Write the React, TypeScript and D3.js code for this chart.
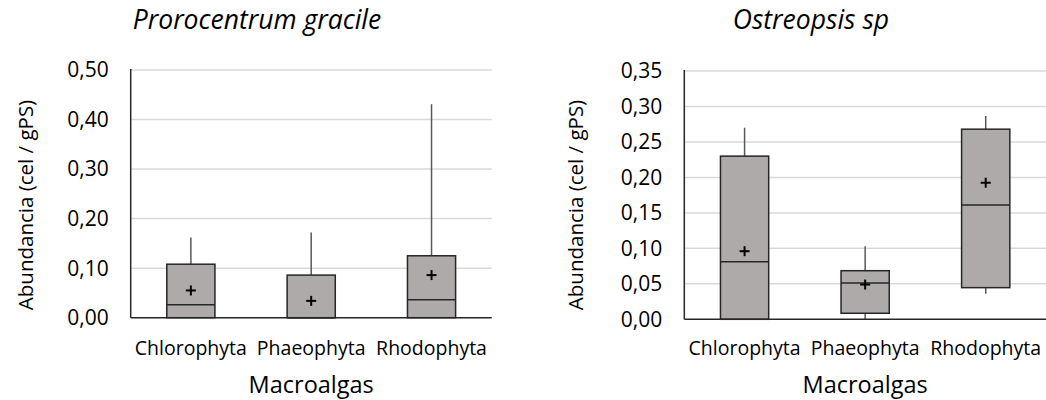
import React from 'react';
import * as d3 from 'd3';

const categories = ['Chlorophyta', 'Phaeophyta', 'Rhodophyta'];

// Prorocentrum gracile
const pgMin = [0, 0, 0];
const pgQ1 = [0, 0, 0];
const pgMedian = [0.026, 0, 0.036];
const pgQ3 = [0.108, 0.086, 0.125];
const pgMax = [0.162, 0.172, 0.431];
const pgMean = [0.055, 0.034, 0.086];
const pgTicks = [0, 0.1, 0.2, 0.3, 0.4, 0.5];

// Ostreopsis sp
const osMin = [0, 0, 0.036];
const osQ1 = [0, 0.0085, 0.0446];
const osMedian = [0.081, 0.051, 0.161];
const osQ3 = [0.23, 0.0685, 0.268];
const osMax = [0.27, 0.103, 0.2866];
const osMean = [0.096, 0.049, 0.1925];
const osTicks = [0, 0.05, 0.1, 0.15, 0.2, 0.25, 0.3, 0.35];

const FONT = '"Open Sans", sans-serif';
const fmt = (v: number) => v.toFixed(2).replace('.', ',');

interface PanelProps {
  title: string;
  mins: number[];
  q1: number[];
  medians: number[];
  q3: number[];
  maxs: number[];
  means: number[];
  ticks: number[];
  left: number;
  right: number;
  top: number;
  bottom: number;
  titleX: number;
  yTitleX: number;
}

const Panel: React.FC<PanelProps> = (p) => {
  const y = d3.scaleLinear().domain([0, p.ticks[p.ticks.length - 1]]).range([p.bottom, p.top]);
  const x = d3.scalePoint<string>().domain(categories).range([p.left, p.right]).padding(0.5);
  const bw = x.step() * 0.4;

  return (
    <g>
      <text x={p.titleX} y={29} textAnchor="middle" fontStyle="italic" fontSize={26.5} fontFamily={FONT} fill="#000">
        {p.title}
      </text>

      {p.ticks.filter(t => t > 0).map(t => (
        <line key={t} x1={p.left} x2={p.right} y1={y(t)} y2={y(t)} stroke="#d9d9d9" strokeWidth={1.5} />
      ))}

      {p.ticks.map(t => (
        <text key={'l' + t} x={p.left - 22} y={y(t)} dy="0.35em" textAnchor="end" fontSize={21} fontFamily={FONT} fill="#000">
          {fmt(t)}
        </text>
      ))}

      {categories.map((c, i) => {
        const cx = x(c)!;
        const mid = p.means[i];
        return (
          <g key={c}>
            {p.maxs[i] > p.q3[i] && (
              <line x1={cx} x2={cx} y1={y(p.q3[i])} y2={y(p.maxs[i])} stroke="#595959" strokeWidth={1.5} />
            )}
            {p.mins[i] < p.q1[i] && (
              <line x1={cx} x2={cx} y1={y(p.mins[i])} y2={y(p.q1[i])} stroke="#595959" strokeWidth={1.5} />
            )}
            <rect
              x={cx - bw / 2}
              y={y(p.q3[i])}
              width={bw}
              height={y(p.q1[i]) - y(p.q3[i])}
              fill="#aeaaaa"
              stroke="#262626"
              strokeWidth={1.5}
            />
            <line x1={cx - bw / 2} x2={cx + bw / 2} y1={y(p.medians[i])} y2={y(p.medians[i])} stroke="#262626" strokeWidth={1.5} />
            <line x1={cx - 5} x2={cx + 5} y1={y(mid)} y2={y(mid)} stroke="#000" strokeWidth={2} />
            <line x1={cx} x2={cx} y1={y(mid) - 5} y2={y(mid) + 5} stroke="#000" strokeWidth={2} />
            <text x={cx} y={355} textAnchor="middle" fontSize={19.5} fontFamily={FONT} fill="#000">
              {c}
            </text>
          </g>
        );
      })}

      <line x1={p.left} x2={p.left} y1={p.top - 1} y2={p.bottom} stroke="#262626" strokeWidth={1.5} />
      <line x1={p.left} x2={p.right} y1={p.bottom} y2={p.bottom} stroke="#262626" strokeWidth={1.5} />

      <text x={(p.left + p.right) / 2} y={393} textAnchor="middle" fontSize={23.5} fontFamily={FONT} fill="#000">
        Macroalgas
      </text>
      <text
        transform={`translate(${p.yTitleX},205) rotate(-90)`}
        textAnchor="middle"
        fontSize={20.5}
        fontFamily={FONT}
        fill="#000"
      >
        Abundancia (cel / gPS)
      </text>
    </g>
  );
};

export default function App() {
  return (
    <svg
      width={1046}
      height={400}
      style={{ position: 'absolute', left: 0, top: 0, background: '#fff' }}
    >
      <rect width={1046} height={400} fill="#fff" />
      <Panel
        title="Prorocentrum gracile"
        mins={pgMin}
        q1={pgQ1}
        medians={pgMedian}
        q3={pgQ3}
        maxs={pgMax}
        means={pgMean}
        ticks={pgTicks}
        left={130.7}
        right={491.7}
        top={70}
        bottom={317.7}
        titleX={257}
        yTitleX={33}
      />
      <Panel
        title="Ostreopsis sp"
        mins={osMin}
        q1={osQ1}
        medians={osMedian}
        q3={osQ3}
        maxs={osMax}
        means={osMean}
        ticks={osTicks}
        left={684.3}
        right={1046}
        top={71}
        bottom={319.3}
        titleX={811}
        yTitleX={583}
      />
    </svg>
  );
}
